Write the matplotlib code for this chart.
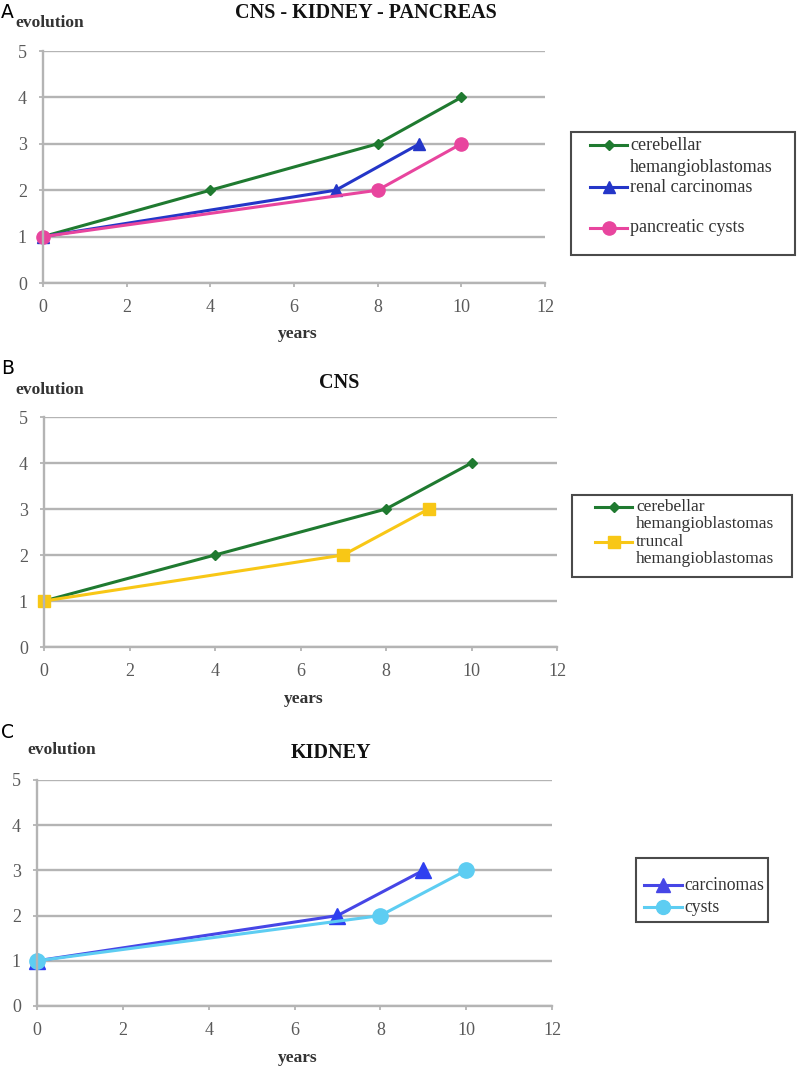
import matplotlib
matplotlib.use("Agg")
import matplotlib.pyplot as plt
from matplotlib.lines import Line2D
from matplotlib.patches import Rectangle

# ---- data ----
xticks = [0, 2, 4, 6, 8, 10, 12]
yticks = [0, 1, 2, 3, 4, 5]

cereb_x = [0, 4, 8, 10]
cereb_y = [1, 2, 3, 4]
renal_x = [0, 7, 9]
renal_y = [1, 2, 3]
panc_x = [0, 8, 10]
panc_y = [1, 2, 3]
trunc_x = [0, 7, 9]
trunc_y = [1, 2, 3]
carc_x = [0, 7, 9]
carc_y = [1, 2, 3]
cyst_x = [0, 8, 10]
cyst_y = [1, 2, 3]

titles = ["CNS - KIDNEY - PANCREAS", "CNS", "KIDNEY"]
panel_letters = ["A", "B", "C"]
legend_A = ["cerebellar\nhemangioblastomas", "renal carcinomas", "pancreatic cysts"]
legend_B = ["cerebellar\nhemangioblastomas", "truncal\nhemangioblastomas"]
legend_C = ["carcinomas", "cysts"]

W, H = 797, 1070
fig = plt.figure(figsize=(W / 100, H / 100), dpi=100)
serif = "Liberation Serif"
grid_c = "#b4b4b4"
tick_c = "#5a5a5a"

def fx(px):
    return px / W

def fy(py):
    return 1 - py / H

def make_ax(left, right, top, bottom):
    ax = fig.add_axes([fx(left), fy(bottom), fx(right - left), fy(top) - fy(bottom)])
    ax.set_xlim(0, 12)
    ax.set_ylim(0, 5)
    ax.set_xticks(xticks)
    ax.set_yticks(yticks)
    ax.grid(axis="y", color=grid_c, lw=1.7)
    ax.set_axisbelow(True)
    for s in ["top", "right"]:
        ax.spines[s].set_visible(False)
    for s in ["left", "bottom"]:
        ax.spines[s].set_color(grid_c)
        ax.spines[s].set_linewidth(1.7)
    ax.tick_params(colors=grid_c, width=1.3, length=3, pad=8.5,
                   labelcolor=tick_c, labelsize=13)
    for lab in ax.get_xticklabels() + ax.get_yticklabels():
        lab.set_fontfamily(serif)
    return ax

def panel_texts(letter, letter_y, evo_x, evo_y, title, title_x, title_y, years_x, years_y):
    fig.text(fx(1), fy(letter_y), letter, fontsize=13.5, family="DejaVu Sans", va="center")
    fig.text(fx(evo_x), fy(evo_y), "evolution", fontsize=12.5, family=serif,
             weight="bold", va="center", color="#333333")
    fig.text(fx(title_x), fy(title_y), title, fontsize=14.5, family=serif,
             weight="bold", ha="center", va="center", color="#111111")
    fig.text(fx(years_x), fy(years_y), "years", fontsize=12.5, family=serif, weight="bold",
             ha="center", va="center", color="#333333")

def draw_legend(box, items, h_x0, h_x1, t_x, fs, line_gap):
    l, t, r, b = box
    fig.add_artist(Rectangle((fx(l), fy(b)), fx(r - l), fy(t) - fy(b),
                             transform=fig.transFigure, fill=False,
                             edgecolor="#4a4a4a", lw=1.5))
    for label, y, color, marker, ms in items:
        fig.add_artist(Line2D([fx(h_x0), fx(h_x1)], [fy(y), fy(y)],
                              transform=fig.transFigure, color=color, lw=2.2))
        fig.add_artist(Line2D([fx((h_x0 + h_x1) / 2)], [fy(y)],
                              transform=fig.transFigure, color=color,
                              marker=marker, ms=ms, lw=0))
        for k, part in enumerate(label.split("\n")):
            fig.text(fx(t_x), fy(y + k * line_gap), part, fontsize=fs, family=serif,
                     va="center", color="#333333")

green = "#1f7a30"
blue = "#2436c8"
pink = "#e8459e"
yellow = "#f8c716"
carc_c = "#4646e6"
carc_m = "#2e3ff0"
cyst_c = "#5dcdf2"

# Panel A
axA = make_ax(43, 545, 51, 283)
axA.plot(cereb_x, cereb_y, color=green, lw=2.2, marker="D", ms=5.5, clip_on=False)
axA.plot(renal_x, renal_y, color=blue, lw=2.2, marker="^", ms=8.5, clip_on=False)
axA.plot(panc_x, panc_y, color=pink, lw=2.2, marker="o", ms=9.5, clip_on=False)
panel_texts("A", 12, 15, 23, titles[0], 366, 13, 298, 334)
draw_legend((571, 132, 795, 255),
            [(legend_A[0], 145, green, "D", 5.5),
             (legend_A[1], 187, blue, "^", 8.5),
             (legend_A[2], 228, pink, "o", 9.5)],
            590, 627, 630, 13, 22)

# Panel B
axB = make_ax(44, 557, 417, 647)
axB.plot(cereb_x, cereb_y, color=green, lw=2.2, marker="D", ms=5.5, clip_on=False)
axB.plot(trunc_x, trunc_y, color=yellow, lw=2.2, marker="s", ms=8, clip_on=False)
panel_texts("B", 368, 15, 390, titles[1], 339, 383, 304, 699)
draw_legend((572, 495, 792, 577),
            [(legend_B[0], 507, green, "D", 5.5),
             (legend_B[1], 542, yellow, "s", 8)],
            595, 632, 636, 12.5, 17)

# Panel C
axC = make_ax(37, 552, 780, 1006)
axC.plot(carc_x, carc_y, color=carc_c, lw=2.2, marker="^", ms=11,
         mfc=carc_m, mec=carc_m, clip_on=False)
axC.plot(cyst_x, cyst_y, color=cyst_c, lw=2.2, marker="o", ms=11, clip_on=False)
panel_texts("C", 732, 27, 750, titles[2], 331, 753, 298, 1058)
draw_legend((636, 858, 768, 922),
            [(legend_C[0], 885, carc_c, "^", 10),
             (legend_C[1], 907, cyst_c, "o", 10)],
            644, 682, 684, 12.7, 20)

fig.savefig("out.png", dpi=100, facecolor="white")
